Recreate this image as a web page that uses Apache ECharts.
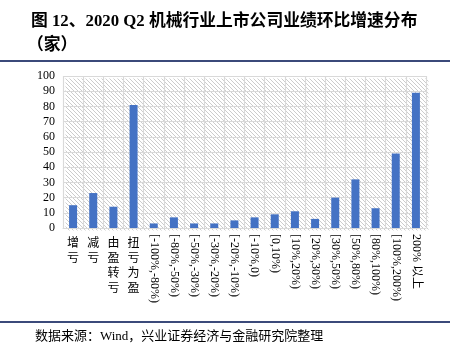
<!DOCTYPE html>
<html><head><meta charset="utf-8">
<script src="https://cdn.jsdelivr.net/npm/echarts@6/dist/echarts.min.js"></script>
<style>html,body{margin:0;padding:0;background:#fff}#c{width:452px;height:355px}</style>
</head><body><div id="c"></div>
<script>
const categories = ['增亏','减亏','由盈转亏','扭亏为盈','[-100%,-80%)','[-80%,-50%)','[-50%,-30%)','[-30%,-20%)','[-20%,-10%)','[-10%,0)','[0,10%)','[10%,20%)','[20%,30%)','[30%,50%)','[50%,80%)','[80%,100%)','[100%,200%)','200% 以上'];
const values = [15,23,14,81,3,7,3,3,5,7,9,11,6,20,32,13,49,89];
const chineseLabels = ['增亏','减亏','由盈转亏','扭亏为盈'];
const titleText = '图 12、2020 Q2 机械行业上市公司业绩环比增速分布';
const titleText2 = '（家）';
const sourceText = '数据来源：Wind，兴业证券经济与金融研究院整理';

const serif = '"Liberation Serif","Noto Sans CJK SC",serif';
const chart = echarts.init(document.getElementById('c'), null, {renderer:'canvas'});

// diagonal hatch lines as decoration of the plot background (relative coords)
const gx = 63, gy = 76, gw = 363, gh = 152, step = 4;
const hatchChildren = [];
for (let k = -gh; k < gw; k += step) {
  let x1 = k, y1 = 0, x2 = k + gh, y2 = gh;
  if (x1 < 0) { y1 = -x1; x1 = 0; }
  if (x2 > gw) { y2 = y2 - (x2 - gw); x2 = gw; }
  hatchChildren.push({type:'line', silent:true, shape:{x1:x1,y1:y1,x2:x2,y2:y2}, style:{stroke:'#cccccc', lineWidth:1}});
}

chart.setOption({
  animation:false,
  title:[
    {text:titleText, left:26, top:8, textStyle:{fontFamily:serif, fontSize:16.8, fontWeight:'bold', color:'#000'}},
    {text:titleText2, left:22, top:32, textStyle:{fontFamily:serif, fontSize:16.8, fontWeight:'bold', color:'#000'}},
    {text:sourceText, left:30, top:325, textStyle:{fontFamily:serif, fontSize:13, fontWeight:'normal', color:'#000'}}
  ],
  graphic:{elements:[
    {type:'group', left:gx, top:gy, z:0, silent:true, children:hatchChildren},
    {type:'rect', shape:{x:0,y:60,width:450,height:2}, style:{fill:'#3b4a7a'}},
    {type:'rect', shape:{x:0,y:321,width:450,height:2}, style:{fill:'#3b4a7a'}}
  ]},
  grid:{left:63, right:26, top:76, bottom:127, show:false},
  xAxis:[{
    type:'category', data:categories, position:'bottom',
    axisLine:{show:true, lineStyle:{color:'#d9d9d9'}},
    axisTick:{show:false},
    splitLine:{show:true, interval:0, lineStyle:{color:'#d9d9d9', width:1.2}},
    axisLabel:{interval:0, rotate:-90, margin:6, fontFamily:serif, fontSize:12, color:'#000',
      formatter:function(v){return chineseLabels.indexOf(v)>=0?'':v;}}
  },{
    type:'category', data:categories, position:'bottom',
    axisLine:{show:false}, axisTick:{show:false}, splitLine:{show:false},
    axisLabel:{interval:0, rotate:0, margin:8, fontFamily:serif, fontSize:12, lineHeight:15, color:'#000',
      formatter:function(v){return chineseLabels.indexOf(v)>=0?v.split('').join('\n'):'';}}
  }],
  yAxis:{
    type:'value', min:0, max:100, interval:10,
    axisLine:{show:false}, axisTick:{show:false},
    splitLine:{show:true, lineStyle:{color:'#d9d9d9', width:1.2}},
    axisLabel:{fontFamily:serif, fontSize:12, color:'#000', margin:8}
  },
  series:[{type:'bar', data:values, barWidth:8, itemStyle:{color:'#4472c4'}, xAxisIndex:0, z:5}]
});
</script></body></html>
